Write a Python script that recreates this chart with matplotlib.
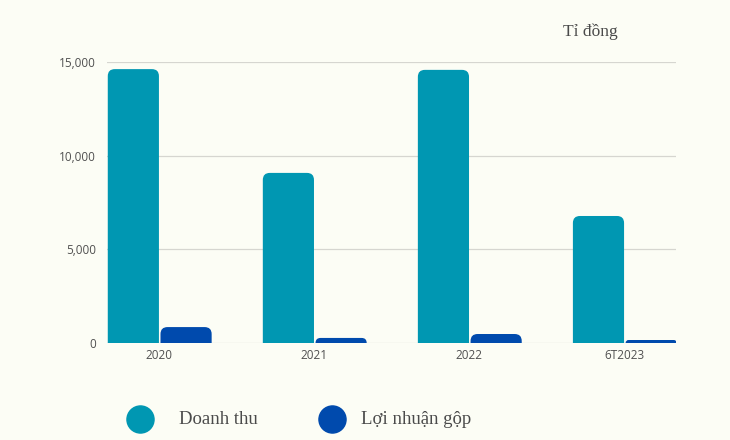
import matplotlib
matplotlib.use("Agg")
import matplotlib.pyplot as plt
from matplotlib.patches import FancyBboxPatch
from matplotlib.lines import Line2D
from matplotlib.ticker import FuncFormatter

# data (tỉ đồng)
years = ["2020", "2021", "2022", "6T2023"]
doanh_thu = [14620, 9080, 14580, 6780]
loi_nhuan = [850, 270, 480, 160]

teal = "#0097b2"
blue = "#004aad"
bg = "#fcfdf5"
serif = ["Liberation Serif", "DejaVu Serif"]

fig = plt.figure(figsize=(7.3, 4.4), dpi=100, facecolor=bg)
ax = fig.add_axes([107 / 730, 97 / 440, 569 / 730, 281 / 440], facecolor=bg)

x = list(range(len(years)))
w = 0.33
b1 = ax.bar([i - w / 2 for i in x], doanh_thu, width=w, color=teal)
b2 = ax.bar([i + w / 2 + 0.01 for i in x], loi_nhuan, width=w, color=blue)

# rounded tops: swap rectangles for rounded boxes, bottom pushed below 0 and clipped
px_x = 1 / 155.0
px_y = 15000 / 281.0
for bars in (b1, b2):
    for r in bars:
        bx, bw, h = r.get_x(), r.get_width(), r.get_height()
        r.set_visible(False)
        rad_px = min(7, max(h / px_y, 1))
        p = FancyBboxPatch((bx, -800), bw, h + 800,
                           boxstyle=f"round,pad=0,rounding_size={rad_px * px_x}",
                           mutation_aspect=px_y / px_x,
                           facecolor=r.get_facecolor(), edgecolor="none",
                           clip_on=True, zorder=3)
        ax.add_patch(p)

ax.set_xlim(-0.335, 3.335)
ax.set_ylim(0, 15000)
ax.set_yticks([0, 5000, 10000, 15000])
ax.yaxis.set_major_formatter(FuncFormatter(lambda v, _: f"{int(v):,}"))
ax.set_xticks(x)
ax.set_xticklabels(years)
ax.grid(axis="y", color="#d6d6d0", linewidth=0.9, zorder=0)
ax.set_axisbelow(True)
for s in ax.spines.values():
    s.set_visible(False)
ax.tick_params(length=0, labelsize=8.5, labelcolor="#505050", pad=8)
ax.tick_params(axis="x", pad=4)
for lab in ax.get_xticklabels() + ax.get_yticklabels():
    lab.set_family("Open Sans")

fig.text(563 / 730, 1 - 32 / 440, "Tỉ đồng", family=serif, fontsize=12.5,
         color="#4a4a4a", va="center", ha="left")

# legend
legend = [(140, "Doanh thu", teal, 179), (332, "Lợi nhuận gộp", blue, 361)]
for cx, name, col, tx in legend:
    fig.add_artist(Line2D([cx / 730], [1 - 419 / 440], marker="o", markersize=19.5,
                          color=col, linestyle="none", transform=fig.transFigure))
    fig.text(tx / 730, 1 - 419 / 440, name, family=serif, fontsize=13.5,
             color="#4a4a4a", va="center", ha="left")

fig.savefig("out.png", dpi=100, facecolor=bg)
